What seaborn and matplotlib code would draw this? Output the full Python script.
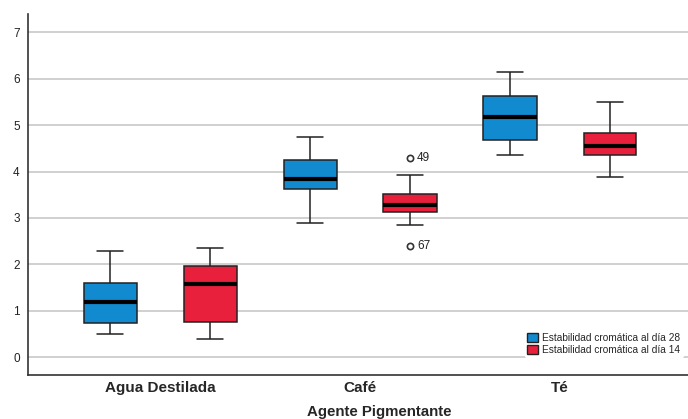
import numpy as np
import pandas as pd
import matplotlib
matplotlib.use("Agg")
import matplotlib.pyplot as plt
import seaborn as sns
from matplotlib.patches import Patch

categories = ["Agua Destilada", "Café", "Té"]
series = ["Estabilidad cromática al día 28", "Estabilidad cromática al día 14"]
colors = ["#118AD0", "#E8203C"]

# five-number summaries: [min, Q1, median, Q3, max]
stats_28 = [[0.50, 0.73, 1.19, 1.59, 2.28],
            [2.89, 3.62, 3.84, 4.25, 4.74],
            [4.35, 4.68, 5.17, 5.63, 6.14]]
stats_14 = [[0.39, 0.75, 1.57, 1.96, 2.35],
            [2.84, 3.13, 3.28, 3.51, 3.92],
            [3.88, 4.35, 4.55, 4.83, 5.50]]
# outliers (case id, value) for Café día 14
outlier_ids = ["49", "67"]
outlier_vals = [4.29, 2.39]

rows = []
for cat, s28, s14 in zip(categories, stats_28, stats_14):
    for v in s28:
        rows.append((cat, series[0], v))
    if cat == "Café":
        mn, q1, md, q3, mx = s14
        vals = [outlier_vals[1], mn, q1, (q1 + md) / 2, md, (md + q3) / 2, q3, mx, outlier_vals[0]]
    else:
        vals = s14
    for v in vals:
        rows.append((cat, series[1], v))
df = pd.DataFrame(rows, columns=["Agente", "Serie", "Valor"])

sns.set_theme(style="white")
plt.rcParams["font.family"] = ["Liberation Sans", "DejaVu Sans"]

fig = plt.figure(figsize=(6.88, 4.19), dpi=100)
ax = fig.add_axes([28/688, 44/419, 660/688, 361/419])

ax.yaxis.grid(True, color="#c4c4c4", linewidth=1.1)
ax.set_axisbelow(True)

sns.boxplot(data=df, x="Agente", y="Valor", hue="Serie", order=categories,
            hue_order=series, palette=colors, width=1.0, gap=0.47,
            linecolor="#222222", linewidth=1.1, fliersize=4.5,
            flierprops=dict(marker="o", markerfacecolor="none",
                            markeredgecolor="#333333", markeredgewidth=1.2),
            medianprops=dict(color="black", linewidth=3),
            whis=1.5, ax=ax, legend=False, saturation=1)

ax.set_xlim(-0.66, 2.64)
ax.set_ylim(-0.38, 7.39)
ax.set_yticks(range(0, 8))

for s in ["top", "right"]:
    ax.spines[s].set_visible(False)
for s in ["left", "bottom"]:
    ax.spines[s].set_color("#333333")
    ax.spines[s].set_linewidth(1.2)

ax.tick_params(axis="y", length=0, labelsize=8.5, pad=6, colors="#222222")
ax.tick_params(axis="x", length=0, labelsize=11, pad=4)
for lab in ax.get_xticklabels():
    lab.set_fontweight("bold")
ax.set_ylabel("")
ax.set_xlabel("Agente Pigmentante", fontsize=10.8, fontweight="bold")
ax.xaxis.set_label_coords(0.532, -0.083)

# outlier labels
for oid, v in zip(outlier_ids, outlier_vals):
    ax.text(1.285, v, oid, fontsize=8.5, va="center", ha="left", color="#222222")

handles = [Patch(facecolor=c, edgecolor="#222222", linewidth=1) for c in colors]
leg = ax.legend(handles, series, loc="lower right", bbox_to_anchor=(1.0, 0.035),
                frameon=True, fontsize=7.3, handlelength=1.05, handleheight=1.05,
                handletextpad=0.45, labelspacing=0.15, borderpad=0.25)
leg.get_frame().set_edgecolor("white")
leg.get_frame().set_facecolor("white")
leg.get_frame().set_alpha(1)

fig.savefig("out.png", dpi=100)
